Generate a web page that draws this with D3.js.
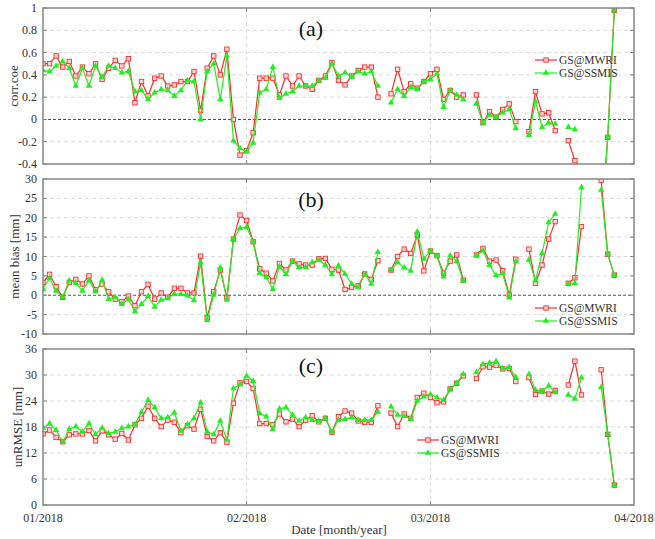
<!DOCTYPE html>
<meta charset="utf-8">
<style>body { margin: 0; } svg { display: block; }</style>
<svg width="655" height="539" font-family="'Liberation Serif', 'Times New Roman', serif" style="background-color: white"></svg>
<script src="https://d3js.org/d3.v7.min.js"></script>
<script>

var svg = d3.select("svg");

// one value per day from 1 Jan 2018, null = no data that day
var startDay = "2018-01-01";
var monthLabels = ["01/2018", "02/2018", "03/2018", "04/2018"];

var corrTicks = [-0.4, -0.2, 0, 0.2, 0.4, 0.6, 0.8, 1];
var biasTicks = [-10, -5, 0, 5, 10, 15, 20, 25, 30];
var rmseTicks = [0, 6, 12, 18, 24, 30, 36];

var corrMWRI = [0.50, 0.50, 0.57, 0.47, 0.52, 0.39, 0.47, 0.41, 0.50, 0.36,
  0.46, 0.53, 0.48, 0.545, 0.15, 0.34, 0.21, 0.37, 0.39, 0.30,
  0.31, 0.34, 0.34, 0.43, 0.08, 0.46, 0.57, 0.40, 0.63, 0.00,
  -0.32, -0.28, -0.12, 0.37, 0.37, 0.37, 0.22, 0.39, 0.30, 0.39,
  0.30, 0.27, 0.35, 0.39, 0.51, 0.35, 0.31, 0.39, 0.44, 0.47,
  0.47, 0.20, null, 0.23, 0.45, 0.25, 0.32, 0.28, 0.34, 0.41,
  0.45, 0.18, 0.26, 0.20, 0.22, null, 0.22, -0.03, 0.07, 0.02,
  0.09, 0.14, -0.02, null, -0.11, 0.25, 0.05, 0.06, -0.10, null,
  -0.19, -0.37, -0.45, null, null, -1.0, -0.16, 0.98];
var corrSSMIS = [0.44, 0.43, 0.48, 0.52, 0.46, 0.30, 0.46, 0.30, 0.48, 0.38,
  0.48, 0.46, 0.42, 0.43, 0.25, 0.26, 0.18, 0.24, 0.27, 0.26,
  0.21, 0.26, 0.35, 0.34, 0.00, 0.43, 0.50, 0.18, 0.57, -0.19,
  -0.26, -0.29, -0.21, 0.24, 0.27, 0.47, 0.19, 0.23, 0.25, 0.30,
  0.30, 0.30, 0.35, 0.37, 0.50, 0.39, 0.42, 0.38, 0.43, 0.41,
  0.43, 0.30, null, 0.15, 0.27, 0.21, 0.29, 0.27, 0.34, 0.36,
  0.41, 0.11, 0.26, 0.22, 0.18, null, 0.14, -0.03, 0.04, 0.02,
  0.06, 0.09, -0.08, null, -0.14, 0.16, -0.07, -0.03, -0.04, null,
  -0.07, -0.09, null, null, null, -1.0, -0.16, 0.98];

var biasMWRI = [3.3, 5.4, 2.2, -0.5, 3.3, 4.1, 2.9, 5.0, 1.4, 2.9,
  0.9, -1.0, -1.7, -0.2, -2.7, 0.9, 2.8, -1.0, 0.6, -0.5,
  1.8, 1.8, 0.6, 0.6, 10.1, -5.8, 0.9, 6.5, -0.6, 14.5,
  20.7, 19.3, 13.8, 6.8, 5.7, 3.7, 8.2, 6.5, 8.8, 8.1,
  7.8, 7.8, 9.4, 9.5, 6.7, 6.5, 1.5, 2.0, 2.4, 5.5,
  4.1, 8.9, null, 6.5, 10.0, 11.9, 10.8, 15.5, 6.3, 11.4,
  10.2, 5.7, 8.8, 10.4, 3.9, null, 10.4, 12.1, 8.8, 9.1,
  6.3, 0.1, 9.3, null, 11.9, 3.1, 7.8, 14.5, 19.0, null,
  3.1, 4.5, 17.7, null, null, 29.7, 10.6, 5.2];
var biasSSMIS = [1.6, 4.4, 1.1, -0.5, 3.8, 3.1, 1.1, 3.8, 0.9, 3.9,
  -1.0, -0.5, -2.3, -1.0, -4.2, -2.3, -0.2, -3.0, -1.2, -0.8,
  0.3, 0.3, -0.1, -1.3, 8.4, -6.4, 0.1, 7.1, -1.2, 14.5,
  17.3, 17.6, 13.8, 5.7, 4.6, 1.6, 7.4, 5.4, 8.7, 7.2,
  7.2, 8.5, 9.1, 7.8, 5.4, 7.6, 5.5, 2.9, 2.0, 5.5,
  2.9, 11.1, null, 6.5, 8.5, 7.1, 6.3, 16.4, 9.4, 11.4,
  10.2, 4.8, 10.2, 8.8, 3.7, null, 10.2, 11.5, 7.8, 5.1,
  5.7, -0.6, 8.7, null, 9.1, 3.8, 10.8, 18.8, 21.0, null,
  2.9, 3.1, 27.8, null, null, 27.2, 10.6, 5.2];

var rmseMWRI = [16.4, 17.3, 15.6, 14.6, 16.2, 16.4, 16.4, 17.2, 14.8, 17.1,
  16.2, 15.2, 16.5, 15.0, 18.5, 20.0, 22.8, 20.0, 18.1, 19.6,
  19.1, 16.7, 18.3, 17.5, 22.1, 15.8, 14.8, 16.7, 14.5, 23.5,
  28.2, 28.5, 26.9, 18.8, 18.8, 18.5, 21.0, 19.2, 19.8, 18.1,
  19.6, 20.6, 19.2, 20.0, 16.8, 20.4, 21.7, 21.2, 19.4, 19.1,
  19.1, 22.9, null, 21.2, 18.1, 21.0, 20.0, 24.8, 25.8, 24.8,
  23.6, 23.8, 26.8, 28.1, 29.8, null, 29.2, 31.9, 31.8, 32.2,
  31.4, 31.5, 28.5, null, 29.4, 25.5, 26.3, 25.6, 26.4, null,
  27.7, 33.2, 25.4, null, null, 31.2, 16.3, 4.6];
var rmseSSMIS = [17.8, 18.8, 17.3, 14.5, 17.5, 18.1, 16.9, 18.8, 16.3, 17.8,
  16.5, 16.9, 17.7, 18.1, 18.6, 21.4, 24.2, 22.5, 20.0, 20.2,
  21.3, 17.1, 18.6, 20.0, 23.6, 16.9, 16.3, 19.4, 15.0, 26.9,
  27.8, 29.8, 28.6, 21.2, 20.4, 17.5, 22.2, 22.5, 20.8, 19.4,
  20.2, 19.6, 19.4, 20.0, 16.9, 19.6, 19.8, 20.2, 19.6, 19.6,
  19.6, 21.5, null, 22.7, 20.8, 20.5, 19.8, 24.0, 25.0, 25.5,
  24.8, 24.2, 26.7, 28.1, 30.2, null, 30.6, 32.5, 32.8, 33.1,
  31.5, 31.8, 29.5, null, 30.2, 26.5, 26.3, 27.5, 26.0, null,
  25.4, 24.5, 29.4, null, null, 27.2, 16.3, 4.6];

var RED = "#ff2b2b", GREEN = "#22ee22";
var left = 43, right = 634;

var t0 = d3.utcParse("%Y-%m-%d")(startDay);
var months = monthLabels.map(function(d, i) { return d3.utcMonth.offset(t0, i); });
var x = d3.scaleUtc().domain([months[0], months[months.length - 1]]).range([left, right]);
function day(i) { return d3.utcDay.offset(t0, i); }
function fmt(v) { return String(+v.toFixed(1)); }

var panels = [
  {top: 8, bottom: 164, ticks: corrTicks, label: "corr.coe", labelX: 18, tag: "(a)", tagY: 36,
   mwri: corrMWRI, ssmis: corrSSMIS, legend: [535, 60]},
  {top: 179, bottom: 334, ticks: biasTicks, label: "mean bias [mm]", labelX: 19, tag: "(b)", tagY: 207,
   mwri: biasMWRI, ssmis: biasSSMIS, legend: [535, 308]},
  {top: 349, bottom: 505, ticks: rmseTicks, label: "unRMSE [mm]", labelX: 22, tag: "(c)", tagY: 373,
   mwri: rmseMWRI, ssmis: rmseSSMIS, legend: [417, 440]}
];

panels.forEach(function(p, k) {
  var y = d3.scaleLinear().domain(d3.extent(p.ticks)).range([p.bottom, p.top]);
  var g = svg.append("g");

  svg.append("clipPath").attr("id", "clip" + k)
    .append("rect").attr("x", left).attr("y", p.top)
    .attr("width", right - left).attr("height", p.bottom - p.top);

  // grid
  g.selectAll(".hgrid").data(p.ticks.slice(1, -1)).enter().append("line")
    .attr("x1", left).attr("x2", right)
    .attr("y1", y).attr("y2", y)
    .attr("stroke", function(d) { return d === 0 ? "#555" : "#dcdcdc"; })
    .attr("stroke-width", function(d) { return d === 0 ? 1.1 : 1; })
    .attr("stroke-dasharray", function(d) { return d === 0 ? "3,2" : "4,3"; });
  g.selectAll(".vgrid").data(months.slice(1, -1)).enter().append("line")
    .attr("x1", x).attr("x2", x)
    .attr("y1", p.top).attr("y2", p.bottom)
    .attr("stroke", "#dcdcdc").attr("stroke-dasharray", "4,3");

  // series
  var plot = g.append("g").attr("clip-path", "url(#clip" + k + ")");
  [[p.mwri, RED, "square"], [p.ssmis, GREEN, "tri"]].forEach(function(s) {
    var pts = s[0].map(function(v, i) { return {t: day(i), v: v}; });
    var line = d3.line()
      .defined(function(d) { return d.v != null; })
      .x(function(d) { return x(d.t); })
      .y(function(d) { return y(d.v); });
    plot.append("path").datum(pts)
      .attr("fill", "none").attr("stroke", s[1]).attr("stroke-width", 1.2)
      .attr("d", line);
    var valid = pts.filter(function(d) { return d.v != null; });
    if (s[2] === "square") {
      plot.selectAll(null).data(valid).enter().append("rect")
        .attr("x", function(d) { return x(d.t) - 2.2; })
        .attr("y", function(d) { return y(d.v) - 2.2; })
        .attr("width", 4.4).attr("height", 4.4)
        .attr("fill", "#ffd6d6").attr("stroke", s[1]).attr("stroke-width", 0.9);
    } else {
      plot.selectAll(null).data(valid).enter().append("path")
        .attr("transform", function(d) { return "translate(" + x(d.t) + "," + y(d.v) + ")"; })
        .attr("d", d3.symbol(d3.symbolTriangle, 18))
        .attr("fill", s[1]);
    }
  });

  // frame and ticks
  g.append("rect").attr("x", left).attr("y", p.top)
    .attr("width", right - left).attr("height", p.bottom - p.top)
    .attr("fill", "none").attr("stroke", "#858585").attr("stroke-width", 1.5);
  g.selectAll(".yt").data(p.ticks).enter().append("path")
    .attr("d", function(d) {
      return "M" + left + "," + y(d) + "h4M" + right + "," + y(d) + "h-4";
    })
    .attr("stroke", "#858585");
  g.selectAll(".xt").data(months.slice(1, -1)).enter().append("path")
    .attr("d", function(d) {
      return "M" + x(d) + "," + p.top + "v4M" + x(d) + "," + p.bottom + "v-4";
    })
    .attr("stroke", "#858585");

  g.selectAll(".ylab").data(p.ticks).enter().append("text")
    .attr("x", left - 6).attr("y", function(d) { return y(d) + 4; })
    .attr("text-anchor", "end").attr("font-size", 12).attr("fill", "#333")
    .text(fmt);

  g.append("text")
    .attr("transform", "translate(" + p.labelX + "," + (p.top + p.bottom) / 2 + ") rotate(-90)")
    .attr("text-anchor", "middle").attr("font-size", 13).attr("fill", "#333")
    .text(p.label);

  g.append("text").attr("x", 311).attr("y", p.tagY)
    .attr("text-anchor", "middle").attr("font-size", 22).attr("fill", "#111")
    .text(p.tag);

  // legend
  var lx = p.legend[0], ly = p.legend[1];
  [["GS@MWRI", RED, "square"], ["GS@SSMIS", GREEN, "tri"]].forEach(function(e, j) {
    var yy = ly + j * 13;
    g.append("line").attr("x1", lx).attr("x2", lx + 22).attr("y1", yy).attr("y2", yy)
      .attr("stroke", e[1]).attr("stroke-width", 1.2);
    if (e[2] === "square") {
      g.append("rect").attr("x", lx + 11 - 2.2).attr("y", yy - 2.2)
        .attr("width", 4.4).attr("height", 4.4)
        .attr("fill", "#ffd6d6").attr("stroke", e[1]).attr("stroke-width", 0.9);
    } else {
      g.append("path").attr("transform", "translate(" + (lx + 11) + "," + yy + ")")
        .attr("d", d3.symbol(d3.symbolTriangle, 18)).attr("fill", e[1]);
    }
    g.append("text").attr("x", lx + 24).attr("y", yy + 4)
      .attr("font-size", 11.5).attr("fill", "#333").text(e[0]);
  });
});

// x axis labels below last panel
svg.selectAll(".mlab").data(months).enter().append("text")
  .attr("x", x).attr("y", 522)
  .attr("text-anchor", "middle").attr("font-size", 12).attr("fill", "#333")
  .text(function(d, i) { return monthLabels[i]; });

svg.append("text").attr("x", 339).attr("y", 534)
  .attr("text-anchor", "middle").attr("font-size", 13).attr("fill", "#333")
  .text("Date [month/year]");

</script>
